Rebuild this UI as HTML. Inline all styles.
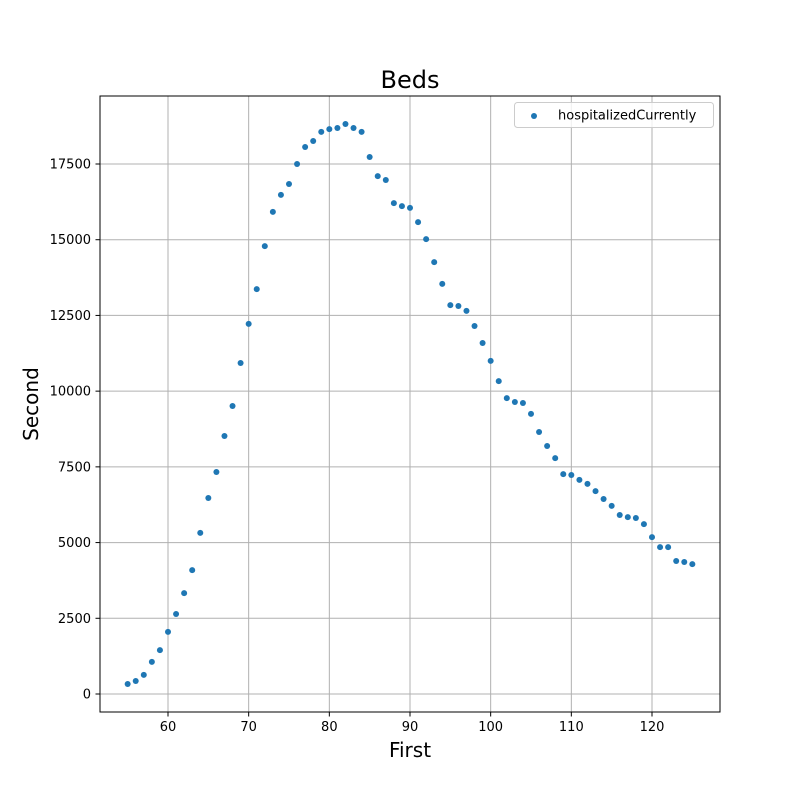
<!DOCTYPE html>
<html><head><meta charset="utf-8"><style>
body{margin:0;background:#fff;}
svg text{font-family:"DejaVu Sans","Liberation Sans",sans-serif;}
</style></head><body>
<svg id="chart" width="800" height="800" viewBox="0 0 800 800">
<rect x="0" y="0" width="800" height="800" fill="#fff"/>
<g id="grid"></g>
<g id="xticks"></g>
<g id="yticks"></g>
<g id="points"></g>
<rect x="100" y="96" width="620" height="616" fill="none" stroke="#000" stroke-width="1"/>
<text x="410" y="88" font-size="24" text-anchor="middle">Beds</text>
<text x="410" y="757" font-size="20" text-anchor="middle">First</text>
<text x="38" y="404" font-size="20" text-anchor="middle" transform="rotate(-90 38 404)">Second</text>
<g>
<rect x="514.5" y="102.5" width="199" height="25" rx="3" fill="#fff" fill-opacity="0.8" stroke="#ccc"/>
<circle cx="534" cy="116" r="3" fill="#1f77b4"/>
<text x="558" y="119.5" font-size="13">hospitalizedCurrently</text>
</g>
</svg>
<script>
const xStart = 55;
const yValues = [330,430,630,1060,1450,2050,2640,3330,4090,5320,6470,7330,8520,9510,10930,12220,13370,14790,15920,16480,16840,17500,18060,18260,18560,18650,18690,18820,18690,18560,17730,17100,16970,16210,16110,16050,15580,15020,14260,13540,12840,12810,12650,12150,11590,11000,10330,9770,9640,9610,9250,8650,8190,7790,7260,7230,7070,6940,6700,6440,6210,5910,5840,5810,5610,5180,4850,4850,4390,4360,4290];
const xTicks = [60,70,80,90,100,110,120];
const yTicks = [0,2500,5000,7500,10000,12500,15000,17500];
const ns = "http://www.w3.org/2000/svg";
function xs(v){return 168 + (v-60)*(652-168)/60;}
function ys(v){return 694 - v*530/17500;}
const grid=document.getElementById('grid'), xt=document.getElementById('xticks'), yt=document.getElementById('yticks'), pts=document.getElementById('points');
function mk(tag,attrs,parent){const e=document.createElementNS(ns,tag);for(const k in attrs)e.setAttribute(k,attrs[k]);parent.appendChild(e);return e;}
xTicks.forEach(t=>{
  const x=xs(t);
  const g=mk('line',{x1:x,x2:x,y1:96,y2:712,stroke:'#b0b0b0','stroke-width':1},grid);
  
  
  const tk=mk('line',{x1:x,x2:x,y1:712,y2:716.5,stroke:'#000'},xt);
  
  
  const tx=mk('text',{x:x,y:731,'font-size':13,'text-anchor':'middle'},xt);
  tx.textContent=t;
  
  
});
yTicks.forEach(t=>{
  const y=ys(t);
  const g=mk('line',{x1:100,x2:720,y1:y,y2:y,stroke:'#b0b0b0','stroke-width':1},grid);
  
  
  const tk=mk('line',{x1:95.5,x2:100,y1:y,y2:y,stroke:'#000'},yt);
  
  
  const tx=mk('text',{x:91,y:y+4.5,'font-size':13,'text-anchor':'end'},yt);
  tx.textContent=t;
  
  
});
yValues.forEach((v,i)=>{
  const c=mk('circle',{cx:xs(xStart+i),cy:ys(v),r:3,fill:'#1f77b4'},pts);
  
  
});
</script>
</body></html>
